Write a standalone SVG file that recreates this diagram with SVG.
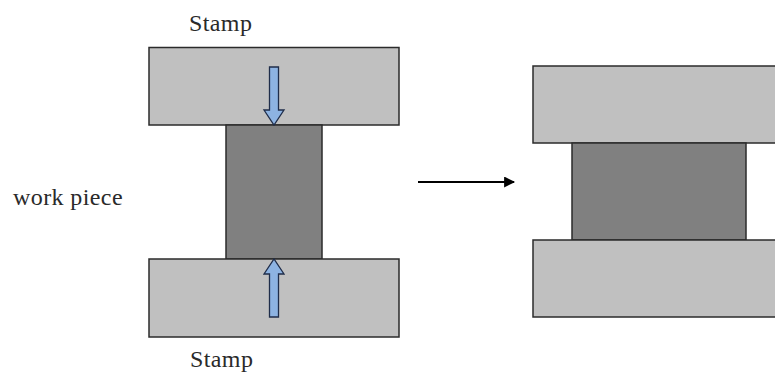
<svg xmlns="http://www.w3.org/2000/svg" width="775" height="385" viewBox="0 0 775 385">
  <style>
    .stamp { fill: #c0c0c0; stroke: #2b2b2b; stroke-width: 1.5; }
    .piece { fill: #808080; stroke: #2b2b2b; stroke-width: 1.5; }
    .force { fill: #8db3e2; stroke: #1f2d4a; stroke-width: 1.3; stroke-linejoin: miter; }
    .label { font-family: "Liberation Serif", "DejaVu Serif", serif; font-size: 24px; fill: #2a2a2a; letter-spacing: 0.4px; }
  </style>
  <defs>
    <marker id="head" viewBox="0 0 10 10" refX="9" refY="5" markerWidth="6.5" markerHeight="5.5" orient="auto" markerUnits="strokeWidth">
      <path d="M0,0 L10,5 L0,10 Z" fill="#000"/>
    </marker>
  </defs>

  <!-- before pressing -->
  <g id="stamp-top-left">
    <rect class="stamp" x="149" y="47.5" width="250" height="77.5"/>
  </g>
  <g id="workpiece-left">
    <rect class="piece" x="226" y="125" width="96" height="134"/>
  </g>
  <g id="stamp-bottom-left">
    <rect class="stamp" x="149" y="259" width="250" height="78"/>
  </g>
  <g id="force-down">
    <path class="force" d="M269.5,67 H278.5 V110 H284 L274,125 L264,110 H269.5 Z"/>
  </g>
  <g id="force-up">
    <path class="force" d="M269.5,317 H278.5 V274 H284 L274,259 L264,274 H269.5 Z"/>
  </g>

  <!-- after pressing -->
  <g id="stamp-top-right">
    <rect class="stamp" x="533" y="66" width="250" height="77"/>
  </g>
  <g id="workpiece-right">
    <rect class="piece" x="572" y="143" width="174" height="97"/>
  </g>
  <g id="stamp-bottom-right">
    <rect class="stamp" x="533" y="240" width="250" height="77"/>
  </g>

  <g id="connectors">
    <line x1="418" y1="182" x2="514" y2="182" stroke="#000" stroke-width="2" marker-end="url(#head)"/>
  </g>

  <g id="labels">
    <text class="label" x="189" y="31">Stamp</text>
    <text class="label" x="13" y="205">work piece</text>
    <text class="label" x="190" y="367">Stamp</text>
  </g>
</svg>
